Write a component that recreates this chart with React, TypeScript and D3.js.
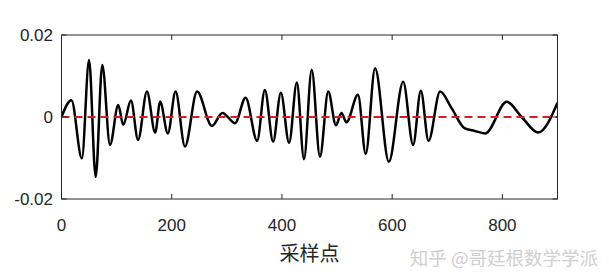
import React from "react";
import * as d3 from "d3";

const sampleX = [0, 18, 37, 50, 62, 74, 88, 103, 112, 126, 139, 155, 170, 179, 193, 207, 224, 246, 273, 292, 315, 334, 355, 369, 384, 398, 413, 427, 440, 454, 469, 484, 498, 508, 517, 538, 552, 569, 594, 620, 638, 652, 666, 687, 708, 732, 747, 769, 808, 835, 865, 900];
const sampleY = [0, 0.0041, -0.0101, 0.0139, -0.0146, 0.0127, -0.0068, 0.0029, -0.0019, 0.004, -0.0056, 0.0062, -0.0038, 0.0037, -0.004, 0.0062, -0.0072, 0.0062, -0.0022, 0.001, -0.0015, 0.0047, -0.0058, 0.0066, -0.006, 0.0059, -0.0063, 0.0084, -0.0103, 0.0115, -0.0097, 0.0062, -0.002, 0.001, -0.0013, 0.0054, -0.009, 0.0119, -0.0109, 0.0086, -0.0068, 0.0064, -0.0058, 0.0062, 0.0021, -0.0028, -0.0033, -0.004, 0.0037, 0, -0.0038, 0.0035];

const xTicks = [0, 200, 400, 600, 800];
const yTicks = [0.02, 0, -0.02];
const yTickLabels = ["0.02", "0", "-0.02"];
const xLabel = "采样点";
const watermark = "知乎 @哥廷根数学学派";

const W = 609;
const H = 275;
const L = 61.5;
const R = 557.5;
const T = 35;
const B = 199;

export default function App() {
  const x = d3.scaleLinear().domain([0, 900]).range([L, R]);
  const y = d3.scaleLinear().domain([-0.02, 0.02]).range([B, T]);
  const pts = sampleX.map((v, i) => [v, sampleY[i]] as [number, number]);
  const line = d3
    .line<[number, number]>()
    .x((d) => x(d[0]))
    .y((d) => y(d[1]))
    .curve(d3.curveMonotoneX);
  const axisColor = "#262626";
  const font = "'Liberation Sans', Arial, sans-serif";
  const tickLen = 5;
  return (
    <div style={{ position: "fixed", left: 0, top: 0 }}>
      <svg width={W} height={H} style={{ display: "block", background: "#fff" }}>
        <rect x={0} y={0} width={W} height={H} fill="#fff" />
        <defs>
          <clipPath id="plotclip">
            <rect x={L} y={T} width={R - L} height={B - T} />
          </clipPath>
        </defs>
        <g clipPath="url(#plotclip)">
          <path d={line(pts) || ""} fill="none" stroke="#000" strokeWidth={2.5} strokeLinejoin="round" />
          <line x1={x(0)} x2={x(900)} y1={y(0)} y2={y(0)} stroke="#dc1a1f" strokeWidth={2.2} strokeDasharray="8,5" />
        </g>
        <rect x={L} y={T} width={R - L} height={B - T} fill="none" stroke={axisColor} strokeWidth={1} />
        {xTicks.map((t) => (
          <g key={"x" + t}>
            <line x1={x(t)} x2={x(t)} y1={B} y2={B - tickLen} stroke={axisColor} />
            <line x1={x(t)} x2={x(t)} y1={T} y2={T + tickLen} stroke={axisColor} />
            <text x={x(t)} y={231} textAnchor="middle" fontFamily={font} fontSize={17} fill="#262626">
              {t}
            </text>
          </g>
        ))}
        {yTicks.map((t, i) => (
          <g key={"y" + t}>
            <line x1={L} x2={L + tickLen} y1={y(t)} y2={y(t)} stroke={axisColor} />
            <line x1={R} x2={R - tickLen} y1={y(t)} y2={y(t)} stroke={axisColor} />
            <text x={53} y={y(t) + 6} textAnchor="end" fontFamily={font} fontSize={17} fill="#262626">
              {yTickLabels[i]}
            </text>
          </g>
        ))}
        <text x={(L + R) / 2} y={261} textAnchor="middle" fontFamily="'Noto Sans CJK SC', sans-serif" fontSize={20} fill="#262626">
          {xLabel}
        </text>
        <text x={598} y={265} textAnchor="end" fontFamily="'Noto Sans CJK SC', sans-serif" fontSize={18.5} fill="#cfcfcf">
          {watermark}
        </text>
      </svg>
    </div>
  );
}
